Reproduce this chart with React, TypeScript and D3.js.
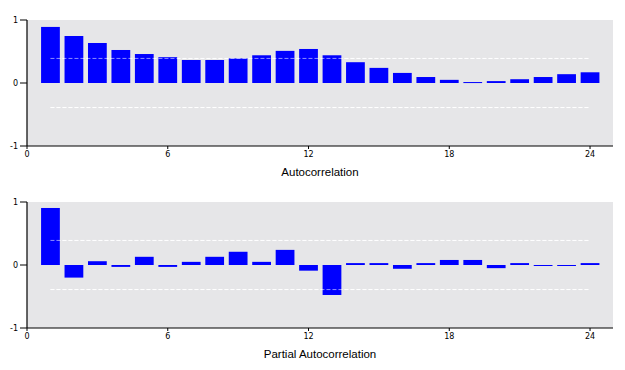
import React from "react";
import * as d3 from "d3";

const lags = d3.range(1, 25);
const acfValues = [0.89, 0.746, 0.635, 0.524, 0.46, 0.41, 0.365, 0.365, 0.39, 0.44, 0.51, 0.54, 0.44, 0.33, 0.24, 0.16, 0.095, 0.05, 0.015, 0.03, 0.06, 0.095, 0.14, 0.17];
const pacfValues = [0.905, -0.2, 0.06, -0.03, 0.13, -0.03, 0.05, 0.13, 0.21, 0.05, 0.24, -0.09, -0.476, 0.03, 0.03, -0.06, 0.03, 0.08, 0.08, -0.05, 0.03, -0.01, -0.01, 0.03];
const xTicks = [0, 6, 12, 18, 24];
const yTicks = [-1, 0, 1];
const confBand = 0.39;
const titles = ["Autocorrelation", "Partial Autocorrelation"];

const W = 625;
const H = 370;
const left = 27;
const right = 613;

function Panel({ values, title, top }: { values: number[]; title: string; top: number }) {
  const x = d3.scaleLinear().domain([0, 24]).range([left, left + 24 * 23.46]);
  const y = d3.scaleLinear().domain([-1, 1]).range([top + 126, top]);
  const bw = 0.8 * (x(1) - x(0));
  return (
    <g>
      <rect x={left} y={y(1)} width={right - left} height={y(-1) - y(1)} fill="#e6e6e8" />
      {[confBand, -confBand].map((c) => (
        <line key={c} x1={x(1)} x2={x(24)} y1={y(c)} y2={y(c)} stroke="#ffffff" strokeWidth={1} strokeDasharray="4,2" />
      ))}
      {values.map((v, i) => (
        <rect
          key={i}
          x={x(lags[i]) - bw / 2}
          y={Math.min(y(v), y(0))}
          width={bw}
          height={Math.max(1, Math.abs(y(v) - y(0)))}
          fill="#0000ff"
        />
      ))}
      {[confBand, -confBand].map((c) => (
        <line key={"o" + c} x1={x(1)} x2={x(24)} y1={y(c)} y2={y(c)} stroke="#ffffff" strokeOpacity={0.55} strokeWidth={1} strokeDasharray="4,2" />
      ))}
      <line x1={left} x2={left} y1={y(1)} y2={y(-1)} stroke="#000" strokeWidth={1.2} />
      <line x1={left} x2={right} y1={y(-1)} y2={y(-1)} stroke="#000" strokeWidth={1.2} />
      {yTicks.map((t) => (
        <g key={t}>
          <line x1={left - 7} x2={left} y1={y(t)} y2={y(t)} stroke="#000" />
          <text x={left - 9} y={y(t)} dy="0.35em" textAnchor="end" fontSize={8} fontFamily="DejaVu Sans, sans-serif" fill="#000">
            {t}
          </text>
        </g>
      ))}
      {xTicks.map((t) => (
        <g key={t}>
          <line x1={x(t)} x2={x(t)} y1={y(-1)} y2={y(-1) + 3} stroke="#000" />
          <text x={x(t)} y={y(-1) + 11} textAnchor="middle" fontSize={8} fontFamily="DejaVu Sans, sans-serif" fill="#000">
            {t}
          </text>
        </g>
      ))}
      <text x={320} y={y(-1) + 30} textAnchor="middle" fontSize={11.5} fontFamily="Liberation Sans, Arial, sans-serif" fill="#000">
        {title}
      </text>
    </g>
  );
}

export default function App() {
  return (
    <svg width={W} height={H} style={{ position: "absolute", left: 0, top: 0, background: "#fff" }}>
      <Panel values={acfValues} title={titles[0]} top={20} />
      <Panel values={pacfValues} title={titles[1]} top={202} />
    </svg>
  );
}
